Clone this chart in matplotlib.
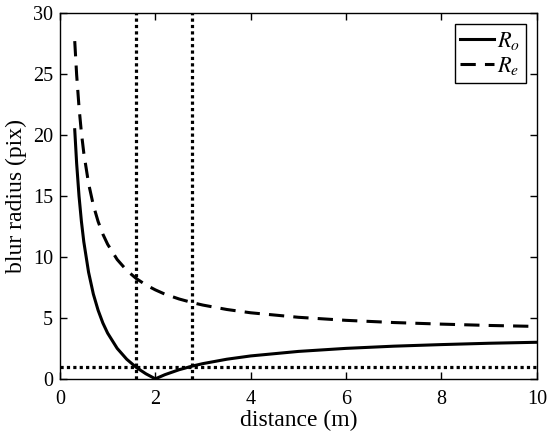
import matplotlib
matplotlib.use("Agg")
import matplotlib.pyplot as plt

plt.rcParams["font.family"] = ["Liberation Serif", "DejaVu Serif"]
plt.rcParams["mathtext.fontset"] = "stix"

# values
distance = [0.31, 0.35, 0.4, 0.45, 0.5, 0.6, 0.7, 0.8, 0.9, 1.0, 1.2, 1.4, 1.6,
            1.8, 2.0, 2.2, 2.5, 2.8, 3.0, 3.5, 4, 5, 6, 7, 8, 9, 10]
r_o = [20.44, 17.68, 15.0, 12.92, 11.25, 8.75, 6.96, 5.63, 4.58, 3.75, 2.5, 1.61,
       0.94, 0.42, 0.0, 0.34, 0.75, 1.07, 1.25, 1.61, 1.88, 2.25, 2.5, 2.68,
       2.81, 2.92, 3.0]
r_e = [27.71, 24.95, 22.28, 20.19, 18.53, 16.03, 14.25, 12.91, 11.87, 11.04, 9.79,
       8.9, 8.23, 7.71, 7.3, 6.95, 6.55, 6.23, 6.05, 5.69, 5.42, 5.05, 4.8, 4.62,
       4.49, 4.38, 4.3]

near_limit = 1.59
far_limit = 2.76
threshold = 1.0

fig = plt.figure(figsize=(5.5, 4.4), dpi=100)
ax = fig.add_axes([0.109, 0.139, 0.867, 0.831])

ax.plot(distance, r_o, "k-", lw=2.2, label=r"$R_o$")
ax.plot(distance, r_e, "k--", lw=2.2, dashes=(5, 3), label=r"$R_e$")
for xv in (near_limit, far_limit):
    ax.axvline(xv, color="k", ls=(0, (1, 1)), lw=2.3)
ax.axhline(threshold, color="k", ls=(0, (1, 1)), lw=2.3)

ax.set_xlim(0, 10)
ax.set_ylim(0, 30)
ax.set_xticks([0, 2, 4, 6, 8, 10])
ax.set_yticks([0, 5, 10, 15, 20, 25, 30])
ax.tick_params(direction="in", top=True, right=True, labelsize=14.5,
               length=5, width=1)
ax.tick_params(axis="x", pad=8)
ax.tick_params(axis="y", pad=5)
for s in ax.spines.values():
    s.set_linewidth(1)
ax.set_xlabel("distance (m)", fontsize=17, labelpad=1)
ax.set_ylabel("blur radius (pix)", fontsize=17, labelpad=4)

leg = ax.legend(loc="upper right", fontsize=16, fancybox=False, framealpha=1,
                handlelength=1.5, handletextpad=0.15, borderpad=0.25,
                labelspacing=0.15, borderaxespad=0.5)
leg.get_frame().set_edgecolor("k")
leg.get_frame().set_linewidth(1)

fig.savefig("out.png", dpi=100)
